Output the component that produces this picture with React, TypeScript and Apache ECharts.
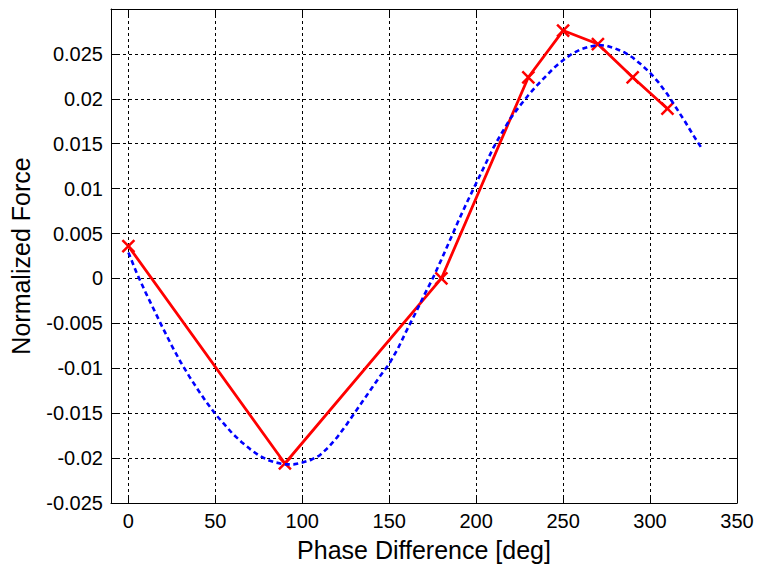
import React, { useEffect, useRef } from "react";
import * as echarts from "echarts";

// Measured data (red, with x markers)
const measuredPhase = [0, 90, 180, 230, 250, 270, 290, 310];
const measuredForce = [0.0036, -0.0206, 0.0, 0.0224, 0.0276, 0.0261, 0.0224, 0.0189];

// Fitted curve (blue dashed)
const fitPhase = [0, 5, 10, 15, 20, 25, 30, 35, 40, 45, 50, 55, 60, 65, 70, 75, 80, 85, 90, 95, 100, 105, 110, 115, 120, 125, 130, 135, 140, 145, 150, 155, 160, 165, 170, 175, 180, 185, 190, 195, 200, 205, 210, 215, 220, 225, 230, 235, 240, 245, 250, 255, 260, 265, 270, 275, 280, 285, 290, 295, 300, 305, 310, 315, 320, 325, 330];
const fitForce = [0.0029, 0.0005, -0.0016, -0.0036, -0.0056, -0.0075, -0.0093, -0.0109, -0.0124, -0.0138, -0.0151, -0.0162, -0.0173, -0.0182, -0.019, -0.0197, -0.0202, -0.0205, -0.0207, -0.0207, -0.0205, -0.0202, -0.0197, -0.0188, -0.0177, -0.0164, -0.015, -0.0136, -0.0122, -0.0108, -0.0095, -0.0078, -0.0058, -0.0039, -0.0019, 0.0, 0.0021, 0.0043, 0.0065, 0.0086, 0.0106, 0.0126, 0.0146, 0.0163, 0.0179, 0.0192, 0.0204, 0.0215, 0.0225, 0.0235, 0.0243, 0.025, 0.0255, 0.0258, 0.026, 0.0259, 0.0256, 0.0252, 0.0246, 0.0238, 0.0229, 0.0218, 0.0205, 0.019, 0.0175, 0.0159, 0.0144];

const xAxisTitle = "Phase Difference [deg]";
const yAxisTitle = "Normalized Force";

const FONT = "Liberation Sans, Arial, Helvetica, sans-serif";

export default function App() {
  const ref = useRef<HTMLDivElement>(null);
  useEffect(() => {
    if (!ref.current) return;
    const chart = echarts.init(ref.current, null, { renderer: "svg" });
    const gridDash = { color: "#000", width: 1, type: [3, 3] as number[] };
    const frameAxis = {
      show: true,
      axisLine: { show: true, onZero: false, lineStyle: { color: "#000", width: 1 } },
      axisTick: { show: true, inside: true, length: 6, lineStyle: { color: "#000", width: 1 } },
      axisLabel: { show: false },
      splitLine: { show: false },
    };
    chart.setOption({
      animation: false,
      backgroundColor: "#fff",
      grid: { left: 111, top: 9, right: 27, bottom: 73, containLabel: false },
      xAxis: [
        {
          type: "value",
          min: -10,
          max: 350,
          splitNumber: 7,
          minInterval: 50,
          maxInterval: 50,
          name: xAxisTitle,
          nameLocation: "middle",
          nameGap: 34,
          nameTextStyle: { fontFamily: FONT, fontSize: 25, color: "#000" },
          axisLine: { show: true, onZero: false, lineStyle: { color: "#000", width: 1 } },
          axisTick: { show: true, inside: true, length: 6, lineStyle: { color: "#000" } },
          axisLabel: { showMinLabel: false, fontFamily: FONT, fontSize: 20, color: "#000", margin: 8 },
          splitLine: { show: true, lineStyle: gridDash },
        },
        {
          type: "value",
          position: "top",
          min: -10,
          max: 350,
          splitNumber: 7,
          minInterval: 50,
          maxInterval: 50,
          ...frameAxis,
        },
      ],
      yAxis: [
        {
          type: "value",
          min: -0.025,
          max: 0.03,
          interval: 0.005,
          name: yAxisTitle,
          nameLocation: "middle",
          nameGap: 78,
          nameTextStyle: { fontFamily: FONT, fontSize: 25, color: "#000" },
          axisLine: { show: true, onZero: false, lineStyle: { color: "#000", width: 1 } },
          axisTick: { show: true, inside: true, length: 6, lineStyle: { color: "#000" } },
          axisLabel: { showMaxLabel: false, fontFamily: FONT, fontSize: 20, color: "#000", margin: 8 },
          splitLine: { show: true, lineStyle: gridDash },
        },
        {
          type: "value",
          position: "right",
          min: -0.025,
          max: 0.03,
          interval: 0.005,
          ...frameAxis,
        },
      ],
      series: [
        {
          type: "line",
          data: measuredPhase.map((x, i) => [x, measuredForce[i]]),
          symbol: "path://M0,0L10,10M10,0L0,10",
          symbolSize: 12,
          showSymbol: true,
          lineStyle: { color: "#ff0000", width: 2.8 },
          itemStyle: { color: "#ff0000", borderColor: "#ff0000", borderWidth: 2.5 },
          z: 3,
        },
        {
          type: "line",
          data: fitPhase.map((x, i) => [x, fitForce[i]]),
          smooth: false,
          showSymbol: false,
          symbol: "none",
          lineStyle: { color: "#0000ff", width: 2.6, type: [5, 3.5] },
          z: 4,
        },
      ],
    });
    return () => chart.dispose();
  }, []);
  return (
    <div
      ref={ref}
      style={{ position: "fixed", left: 0, top: 0, width: 764, height: 576, background: "#fff" }}
    />
  );
}
